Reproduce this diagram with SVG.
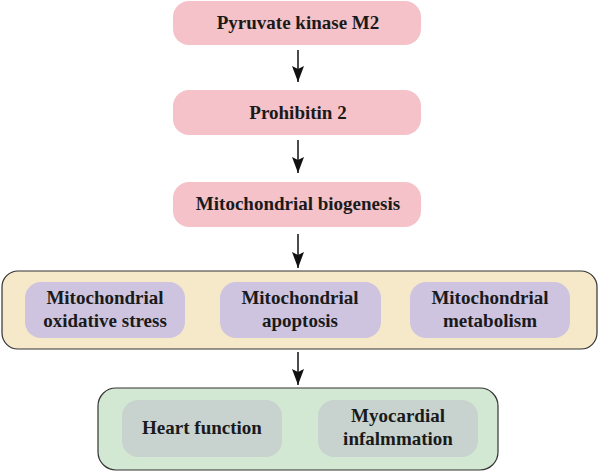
<svg xmlns="http://www.w3.org/2000/svg" width="600" height="471" viewBox="0 0 600 471">
<defs>
<marker id="ah" markerWidth="16" markerHeight="12" refX="16" refY="6" orient="auto" markerUnits="userSpaceOnUse" viewBox="0 0 16 12">
<path d="M0,0 L16,6 L0,12 L3,6 Z" fill="#111"/>
</marker>
<style>
.t{font-family:"Liberation Serif","Times New Roman",serif;font-weight:bold;font-size:19px;fill:#1a1a1a;text-anchor:middle}
.pink{fill:#f4c2c8}
.grp1{fill:#f5e9c9;stroke:#333;stroke-width:1.2}
.grp2{fill:#d3e8d2;stroke:#333;stroke-width:1.2}
.pur{fill:#cec4df}
.gry{fill:#c8d3cf}
.c{stroke:#111;stroke-width:1.5;fill:none;marker-end:url(#ah)}
</style>
</defs>
<g id="n1"><rect class="pink" x="173" y="1" width="248" height="44" rx="16"/><text class="t" x="298" y="29">Pyruvate kinase M2</text></g>
<g id="n2"><rect class="pink" x="173" y="90" width="248" height="45" rx="16"/><text class="t" x="298" y="119">Prohibitin 2</text></g>
<g id="n3"><rect class="pink" x="173" y="182" width="248" height="45" rx="16"/><text class="t" x="298" y="210">Mitochondrial biogenesis</text></g>
<g id="g1">
<rect class="grp1" x="2" y="271" width="595" height="78" rx="16"/>
<g id="n4"><rect class="pur" x="25" y="282" width="160" height="56" rx="16"/><text class="t" x="105" y="304">Mitochondrial</text><text class="t" x="105" y="327">oxidative stress</text></g>
<g id="n5"><rect class="pur" x="220" y="282" width="161" height="56" rx="16"/><text class="t" x="300" y="304">Mitochondrial</text><text class="t" x="300" y="327">apoptosis</text></g>
<g id="n6"><rect class="pur" x="410" y="282" width="160" height="56" rx="16"/><text class="t" x="490" y="304">Mitochondrial</text><text class="t" x="490" y="327">metabolism</text></g>
</g>
<g id="g2">
<rect class="grp2" x="98" y="388" width="400" height="82" rx="18"/>
<g id="n7"><rect class="gry" x="122" y="400" width="160" height="57" rx="16"/><text class="t" x="202" y="434">Heart function</text></g>
<g id="n8"><rect class="gry" x="318" y="400" width="160" height="57" rx="16"/><text class="t" x="398" y="422">Myocardial</text><text class="t" x="398" y="445">infalmmation</text></g>
</g>
<g id="connectors">
<line class="c" x1="298" y1="50" x2="298" y2="82"/>
<line class="c" x1="298" y1="140" x2="298" y2="173"/>
<line class="c" x1="298" y1="234" x2="298" y2="268"/>
<line class="c" x1="298" y1="352" x2="298" y2="385"/>
</g>
</svg>
